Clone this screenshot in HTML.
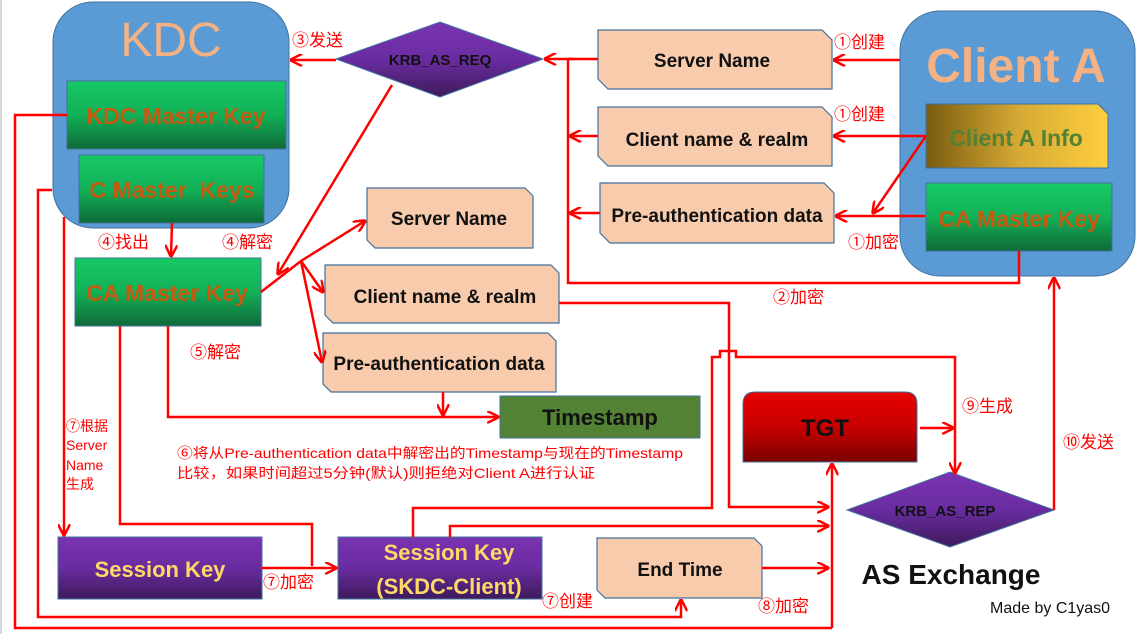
<!DOCTYPE html>
<html><head><meta charset="utf-8"><style>
html,body{margin:0;padding:0;background:#fff;}
svg{display:block;}
text{font-family:"Liberation Sans","Noto Sans CJK SC",sans-serif;}
.b{font-weight:bold;}
.red{fill:#ff0000;font-size:17px;}
</style></head><body>
<svg width="1136" height="634" viewBox="0 0 1136 634" xmlns="http://www.w3.org/2000/svg">
<defs>
<linearGradient id="g" x1="0" y1="0" x2="0" y2="1"><stop offset="0" stop-color="#17c966"/><stop offset="0.5" stop-color="#13b057"/><stop offset="1" stop-color="#0e6a38"/></linearGradient>
<linearGradient id="p" x1="0" y1="0" x2="0" y2="1"><stop offset="0" stop-color="#7a33b0"/><stop offset="0.5" stop-color="#6a2ca0"/><stop offset="1" stop-color="#3d1a5c"/></linearGradient>
<linearGradient id="r" x1="0" y1="0" x2="0" y2="1"><stop offset="0" stop-color="#e80000"/><stop offset="0.5" stop-color="#c80000"/><stop offset="1" stop-color="#7a0000"/></linearGradient>
<linearGradient id="y" x1="0" y1="0" x2="1" y2="0"><stop offset="0" stop-color="#7a5c10"/><stop offset="0.5" stop-color="#d4a834"/><stop offset="1" stop-color="#ffcf3f"/></linearGradient>
<marker id="a" viewBox="0 0 10 10" refX="9" refY="5" markerWidth="5" markerHeight="5" orient="auto-start-reverse"><path d="M0,0 L10,5 L0,10" fill="none" stroke="#ff0000" stroke-width="2"/></marker>
</defs>
<rect x="0" y="0" width="2" height="634" fill="#d8d8d8"/>

<!-- KDC -->
<rect x="53" y="2" width="236" height="226" rx="40" fill="#5b9bd5" stroke="#41719c"/>
<text x="171" y="56" font-size="48" fill="#f4b183" text-anchor="middle">KDC</text>
<rect x="67" y="81" width="219" height="68" fill="url(#g)" stroke="#41719c"/>
<text x="176" y="124" class="b" font-size="23" fill="#c55a11" text-anchor="middle">KDC Master Key</text>
<rect x="79" y="155" width="185" height="68" fill="url(#g)" stroke="#41719c"/>
<text x="172" y="198" class="b" font-size="23" fill="#c55a11" text-anchor="middle" xml:space="preserve">C Master  Keys</text>

<!-- KRB_AS_REQ -->
<polygon points="336,59 440,22 543,59 440,97" fill="url(#p)" stroke="#41719c"/>
<text x="440" y="65" class="b" font-size="15" fill="#111" text-anchor="middle">KRB_AS_REQ</text>

<!-- Client A -->
<rect x="900" y="11" width="235" height="265" rx="40" fill="#5b9bd5" stroke="#41719c"/>
<text x="1016" y="82" class="b" font-size="48" fill="#f4b183" text-anchor="middle">Client A</text>
<polygon points="926,104 1098,104 1108,114 1108,168 926,168" fill="url(#y)" stroke="#41719c"/>
<text x="1016" y="146" class="b" font-size="23" fill="#548235" text-anchor="middle">Client A Info</text>
<rect x="926" y="183" width="186" height="68" fill="url(#g)" stroke="#41719c"/>
<text x="1019" y="227" class="b" font-size="23" fill="#c55a11" text-anchor="middle">CA Master Key</text>

<!-- snip boxes -->
<g fill="#f8cbad" stroke="#41719c" stroke-width="1.2">
<polygon points="598,30 822,30 832,40 832,89 608,89 598,79"/>
<polygon points="598,107 822,107 832,117 832,166 608,166 598,156"/>
<polygon points="600,183 824,183 834,193 834,243 610,243 600,233"/>
<polygon points="367,188 525,188 533,196 533,248 375,248 367,240"/>
<polygon points="325,265 551,265 559,273 559,323 333,323 325,315"/>
<polygon points="323,333 548,333 556,341 556,392 331,392 323,384"/>
<polygon points="597,538 754,538 762,546 762,598 605,598 597,590"/>
</g>
<g class="b" font-size="19" fill="#111" text-anchor="middle">
<text x="712" y="67" class="b">Server Name</text>
<text x="717" y="146" class="b">Client name &amp; realm</text>
<text x="717" y="222" class="b">Pre-authentication data</text>
<text x="449" y="225" class="b">Server Name</text>
<text x="445" y="303" class="b">Client name &amp; realm</text>
<text x="439" y="370" class="b">Pre-authentication data</text>
<text x="680" y="576" class="b">End Time</text>
</g>

<!-- CA Master Key (KDC) -->
<rect x="75" y="258" width="186" height="68" fill="url(#g)" stroke="#41719c"/>
<text x="167" y="301" class="b" font-size="23" fill="#c55a11" text-anchor="middle">CA Master Key</text>

<!-- Timestamp -->
<rect x="500" y="396" width="200" height="42" fill="#548235" stroke="#41719c"/>
<text x="600" y="425" class="b" font-size="22" fill="#111" text-anchor="middle">Timestamp</text>

<!-- Session keys -->
<rect x="58" y="537" width="204" height="62" fill="url(#p)" stroke="#41719c"/>
<text x="160" y="577" class="b" font-size="22" fill="#ffd966" text-anchor="middle">Session Key</text>
<rect x="338" y="537" width="204" height="62" fill="url(#p)" stroke="#41719c"/>
<text x="449" y="560" class="b" font-size="22" fill="#ffd966" text-anchor="middle">Session Key</text>
<text x="449" y="594" class="b" font-size="22" fill="#ffd966" text-anchor="middle">(SKDC-Client)</text>

<!-- TGT -->
<path d="M743,462 L743,404 Q743,392 755,392 L905,392 Q917,392 917,404 L917,462 Z" fill="url(#r)" stroke="#41719c"/>
<text x="825" y="436" class="b" font-size="24" fill="#111" text-anchor="middle">TGT</text>

<!-- KRB_AS_REP -->
<polygon points="847,510 950,472 1054,510 950,547" fill="url(#p)" stroke="#41719c"/>
<text x="945" y="516" class="b" font-size="15" fill="#111" text-anchor="middle">KRB_AS_REP</text>

<text x="951" y="584" class="b" font-size="28" fill="#111" text-anchor="middle">AS Exchange</text>
<text x="990" y="613" font-size="16" fill="#111">Made by C1yas0</text>

<!-- connectors -->
<g stroke="#ff0000" stroke-width="2.5" fill="none">
<line x1="336" y1="60" x2="291" y2="60" marker-end="url(#a)"/>
<line x1="900" y1="60" x2="834" y2="60" marker-end="url(#a)"/>
<line x1="926" y1="136" x2="834" y2="136" marker-end="url(#a)"/>
<line x1="926" y1="136" x2="873" y2="213" marker-end="url(#a)"/>
<line x1="925" y1="216" x2="836" y2="216" marker-end="url(#a)"/>
<line x1="598" y1="59" x2="568" y2="59"/>
<line x1="575" y1="59" x2="545" y2="59" marker-end="url(#a)"/>
<line x1="598" y1="136" x2="570" y2="136" marker-end="url(#a)"/>
<line x1="600" y1="213" x2="570" y2="213" marker-end="url(#a)"/>
<polyline points="568,59 568,283 1019,283 1019,251"/>
<line x1="392" y1="85" x2="278" y2="274" marker-end="url(#a)"/>
<line x1="172" y1="223" x2="171" y2="256" marker-end="url(#a)"/>
<line x1="261" y1="292" x2="301" y2="261"/>
<line x1="301" y1="261" x2="365" y2="221" marker-end="url(#a)"/>
<line x1="301" y1="261" x2="323" y2="292" marker-end="url(#a)"/>
<line x1="301" y1="261" x2="322" y2="362" marker-end="url(#a)"/>
<polyline points="168,326 168,417 498,417" marker-end="url(#a)"/>
<line x1="443" y1="392" x2="443" y2="415" marker-end="url(#a)"/>
<line x1="64" y1="217" x2="64" y2="535" marker-end="url(#a)"/>
<polyline points="120,326 120,524 312,524 312,566"/>
<line x1="262" y1="568" x2="336" y2="568" marker-end="url(#a)"/>
<polyline points="67,115 15,115 15,628 832,628"/>
<line x1="832" y1="628" x2="832" y2="464" marker-end="url(#a)"/>
<polyline points="52,190 38,190 38,617 681,617 681,600" marker-end="url(#a)"/>
<polyline points="559,303 729,303 729,507 828,507" marker-end="url(#a)"/>
<polyline points="413,537 413,508 712,508 712,357 720,357 720,351 736,351 736,357 955,357 955,473" marker-end="url(#a)"/>
<polyline points="450,537 450,526 828,526" marker-end="url(#a)"/>
<line x1="762" y1="568" x2="828" y2="568" marker-end="url(#a)"/>
<line x1="920" y1="428" x2="953" y2="428" marker-end="url(#a)"/>
<line x1="1054" y1="510" x2="1054" y2="278" marker-end="url(#a)"/>
</g>

<!-- red labels -->
<text x="292" y="46" class="red">③发送</text>
<text x="834" y="48" class="red">①创建</text>
<text x="834" y="120" class="red">①创建</text>
<text x="848" y="248" class="red">①加密</text>
<text x="773" y="303" class="red">②加密</text>
<text x="98" y="248" class="red">④找出</text>
<text x="222" y="248" class="red">④解密</text>
<text x="190" y="358" class="red">⑤解密</text>
<text x="66" y="431" fill="#ff0000" font-size="14">⑦根据</text>
<text x="66" y="450" fill="#ff0000" font-size="14">Server</text>
<text x="66" y="470" fill="#ff0000" font-size="14">Name</text>
<text x="66" y="489" fill="#ff0000" font-size="14">生成</text>
<text x="177" y="458" fill="#ff0000" font-size="14" textLength="506" lengthAdjust="spacingAndGlyphs">⑥将从Pre-authentication data中解密出的Timestamp与现在的Timestamp</text>
<text x="177" y="478" fill="#ff0000" font-size="14" textLength="418" lengthAdjust="spacingAndGlyphs">比较，如果时间超过5分钟(默认)则拒绝对Client A进行认证</text>
<text x="263" y="588" class="red">⑦加密</text>
<text x="542" y="607" class="red">⑦创建</text>
<text x="758" y="612" class="red">⑧加密</text>
<text x="962" y="412" class="red">⑨生成</text>
<text x="1063" y="448" class="red">⑩发送</text>
</svg>
</body></html>
